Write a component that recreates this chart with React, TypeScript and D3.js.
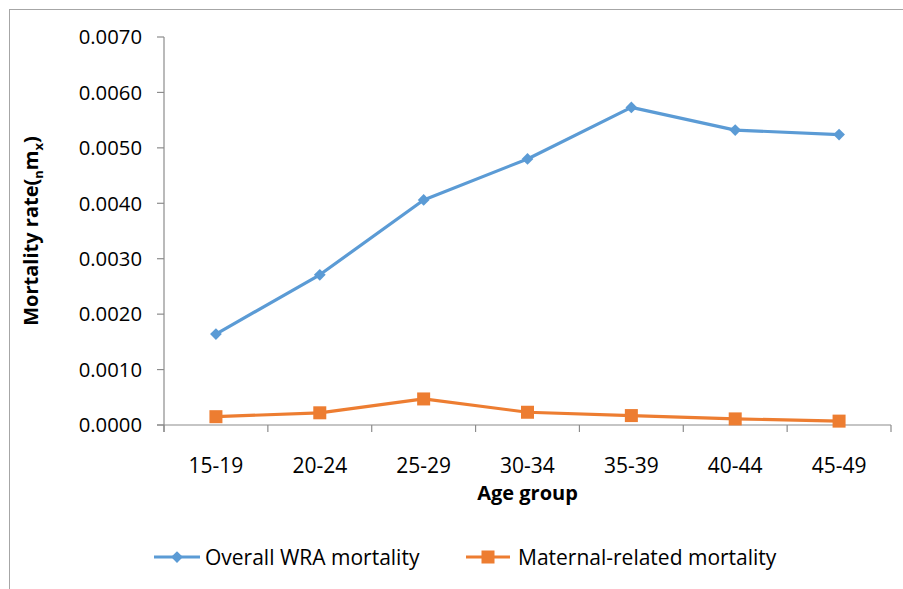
import React from "react";
import * as d3 from "d3";

const W = 903;
const H = 589;

const ageGroups = ["15-19", "20-24", "25-29", "30-34", "35-39", "40-44", "45-49"];
const overallWRA = [0.00164, 0.00271, 0.00406, 0.00480, 0.00573, 0.00532, 0.00524];
const maternalRelated = [0.00015, 0.00022, 0.00047, 0.00023, 0.00017, 0.00011, 0.00007];
const yTicks = [0, 0.001, 0.002, 0.003, 0.004, 0.005, 0.006, 0.007];

const FONT = "'Open Sans', 'Noto Sans', sans-serif";
const BLUE = "#5b9bd5";
const ORANGE = "#ed7d31";
const AXIS = "#8c8c8c";

const m = { left: 164, right: 891, top: 37, bottom: 425 };

const App = () => {
  const x = d3.scaleBand<string>().domain(ageGroups).range([m.left, m.right]);
  const y = d3.scaleLinear().domain([0, 0.007]).range([m.bottom, m.top]);
  const cx = (d: string) => (x(d) ?? 0) + x.bandwidth() / 2;

  const line = d3
    .line<number>()
    .x((_, i) => cx(ageGroups[i]))
    .y((v) => y(v));

  const diamond = d3.symbol().type(d3.symbolDiamond2).size(88);
  const fmt = d3.format(".4f");

  const boundaries = ageGroups.map((g) => x(g) ?? 0).concat([m.right]);

  return (
    <svg
      width={W}
      height={H}
      style={{ position: "absolute", left: 0, top: 0, background: "#fff" }}
      fontFamily={FONT}
    >
      <rect x={9.5} y={9.5} width={1000} height={1000} fill="#fff" stroke="#a6a6a6" strokeWidth={1} />

      {/* y axis */}
      <g>
        <line x1={m.left} x2={m.left} y1={m.top} y2={m.bottom + 7} stroke={AXIS} strokeWidth={1.2} />
        {yTicks.map((t) => (
          <g key={t}>
            <line x1={m.left - 7} x2={m.left} y1={y(t)} y2={y(t)} stroke={AXIS} strokeWidth={1.2} />
            <text x={142} y={y(t)} dy="0.36em" textAnchor="end" fontSize={20.3} fill="#000">
              {fmt(t)}
            </text>
          </g>
        ))}
      </g>

      {/* x axis */}
      <g>
        <line x1={m.left - 7} x2={m.right} y1={m.bottom} y2={m.bottom} stroke={AXIS} strokeWidth={1.2} />
        {boundaries.map((b, i) => (
          <line key={i} x1={b} x2={b} y1={m.bottom} y2={m.bottom + 7} stroke={AXIS} strokeWidth={1.2} />
        ))}
        {ageGroups.map((g) => (
          <text key={g} x={cx(g)} y={465} dy="0.36em" textAnchor="middle" fontSize={21} fill="#000">
            {g}
          </text>
        ))}
      </g>

      <text x={(m.left + m.right) / 2} y={493} dy="0.36em" textAnchor="middle" fontSize={20} fontWeight="bold">
        Age group
      </text>
      <text
        transform={`translate(31,${(m.top + m.bottom) / 2}) rotate(-90)`}
        textAnchor="middle"
        dy="0.36em"
        fontSize={20}
        fontWeight="bold"
      >
        Mortality rate(
        <tspan fontSize={13} dy="5">n</tspan>
        <tspan dy="-5">m</tspan>
        <tspan fontSize={13} dy="5">x</tspan>
        <tspan dy="-5">)</tspan>
      </text>

      {/* series */}
      <path d={line(overallWRA) ?? ""} fill="none" stroke={BLUE} strokeWidth={3.2} strokeLinejoin="round" />
      {overallWRA.map((v, i) => (
        <path key={i} d={diamond() ?? ""} transform={`translate(${cx(ageGroups[i])},${y(v)})`} fill={BLUE} />
      ))}
      <path d={line(maternalRelated) ?? ""} fill="none" stroke={ORANGE} strokeWidth={3.2} strokeLinejoin="round" />
      {maternalRelated.map((v, i) => (
        <rect key={i} x={cx(ageGroups[i]) - 6.5} y={y(v) - 6.5} width={13} height={13} fill={ORANGE} />
      ))}

      {/* legend */}
      <g>
        <line x1={154} x2={200} y1={557} y2={557} stroke={BLUE} strokeWidth={3.2} />
        <path d={diamond() ?? ""} transform="translate(177,557)" fill={BLUE} />
        <text x={205} y={557} dy="0.36em" fontSize={21}>Overall WRA mortality</text>
        <line x1={466} x2={510} y1={557} y2={557} stroke={ORANGE} strokeWidth={3.2} />
        <rect x={481.5} y={550.5} width={13} height={13} fill={ORANGE} />
        <text x={518} y={557} dy="0.36em" fontSize={21}>Maternal-related mortality</text>
      </g>
    </svg>
  );
};

export default App;
